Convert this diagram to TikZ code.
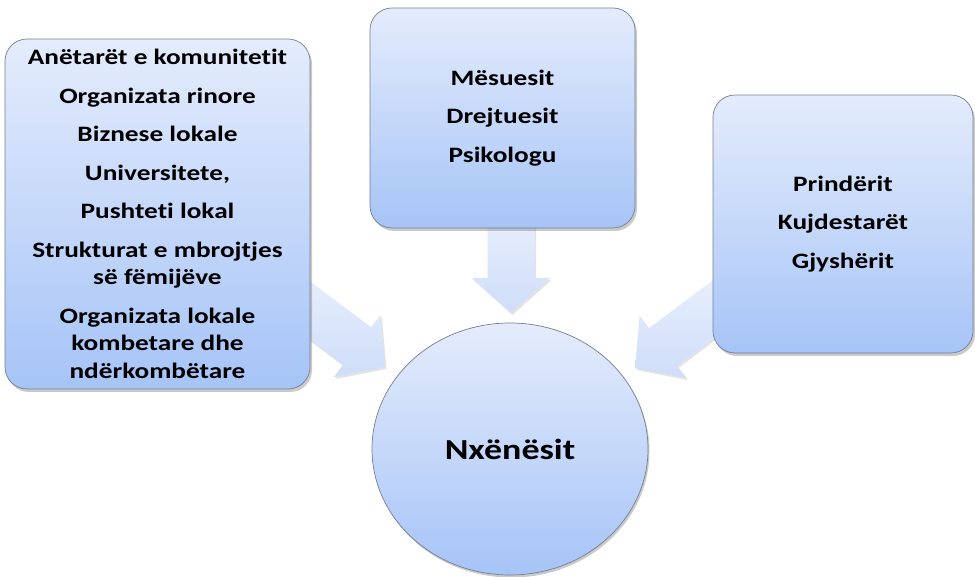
\documentclass[tikz,border=0pt]{standalone}
\usepackage{fontspec}
\setmainfont{Carlito}[FakeStretch=1.24, Ligatures=NoCommon]
\usetikzlibrary{shapes.geometric,shadows}
\definecolor{boxtop}{RGB}{228,236,252}
\definecolor{boxbot}{RGB}{166,196,247}
\definecolor{arrtop}{RGB}{232,239,253}
\definecolor{arrbot}{RGB}{206,221,249}
\definecolor{edge}{RGB}{118,126,146}
\tikzset{
  boxstyle/.style={rectangle, rounded corners=22pt, draw=edge, line width=0.7pt,
    top color=boxtop, bottom color=boxbot, inner sep=0pt, align=center,
    font=\bfseries\fontsize{22}{27.5}\selectfont,
    drop shadow={shadow xshift=2pt, shadow yshift=-3pt, opacity=0.35, fill=black!60}},
  circstyle/.style={ellipse, draw=edge, line width=0.7pt,
    top color=boxtop, bottom color=boxbot, inner sep=0pt,
    font=\bfseries\fontsize{29}{35}\selectfont,
    drop shadow={shadow xshift=1.5pt, shadow yshift=-2.5pt, opacity=0.35, fill=black!60}},
  arrowstyle/.style={top color=arrtop, bottom color=arrbot,
    drop shadow={shadow xshift=1.5pt, shadow yshift=-2pt, opacity=0.18, fill=black!60}}
}
\newcommand{\blockarrow}[3]{%
  \begin{scope}[shift={(#1)}, rotate=#2]
    \path[arrowstyle] (0,0) -- (-35,39) -- (-35,23.5) -- (-#3,23.5) -- (-#3,-23.5)
      -- (-35,-23.5) -- (-35,-39) -- cycle;
  \end{scope}}
\begin{document}
\begin{tikzpicture}[x=1pt,y=-1pt]
\useasboundingbox (0,0) rectangle (975,577);
% arrow tips
\coordinate (tipT) at (511,313);
\coordinate (tipL) at (385,367);
\coordinate (tipR) at (635,368);
\blockarrow{tipT}{-90}{100}
\blockarrow{tipL}{-36.87}{125}
\blockarrow{tipR}{216.87}{125}
% boxes
\node[boxstyle, minimum width=305pt, minimum height=350pt] (L) at (157.5,214)
  {Anëtarët e komunitetit\\[11pt]
   Organizata rinore\\[11pt]
   Biznese lokale\\[11pt]
   Universitete,\\[11pt]
   Pushteti lokal\\[11pt]
   Strukturat e mbrojtjes\\
   së fëmijëve\\[11pt]
   Organizata lokale\\
   kombetare dhe\\
   ndërkombëtare};
\node[boxstyle, minimum width=265pt, minimum height=220pt] (T) at (502.5,118)
  {Mësuesit\\[11pt] Drejtuesit\\[11pt] Psikologu};
\node[boxstyle, minimum width=260pt, minimum height=258pt] (R) at (843,224)
  {Prindërit\\[11pt] Kujdestarët\\[11pt] Gjyshërit};
\node[circstyle, minimum width=276pt, minimum height=252pt] (C) at (510,449) {Nxënësit};
\end{tikzpicture}
\end{document}
